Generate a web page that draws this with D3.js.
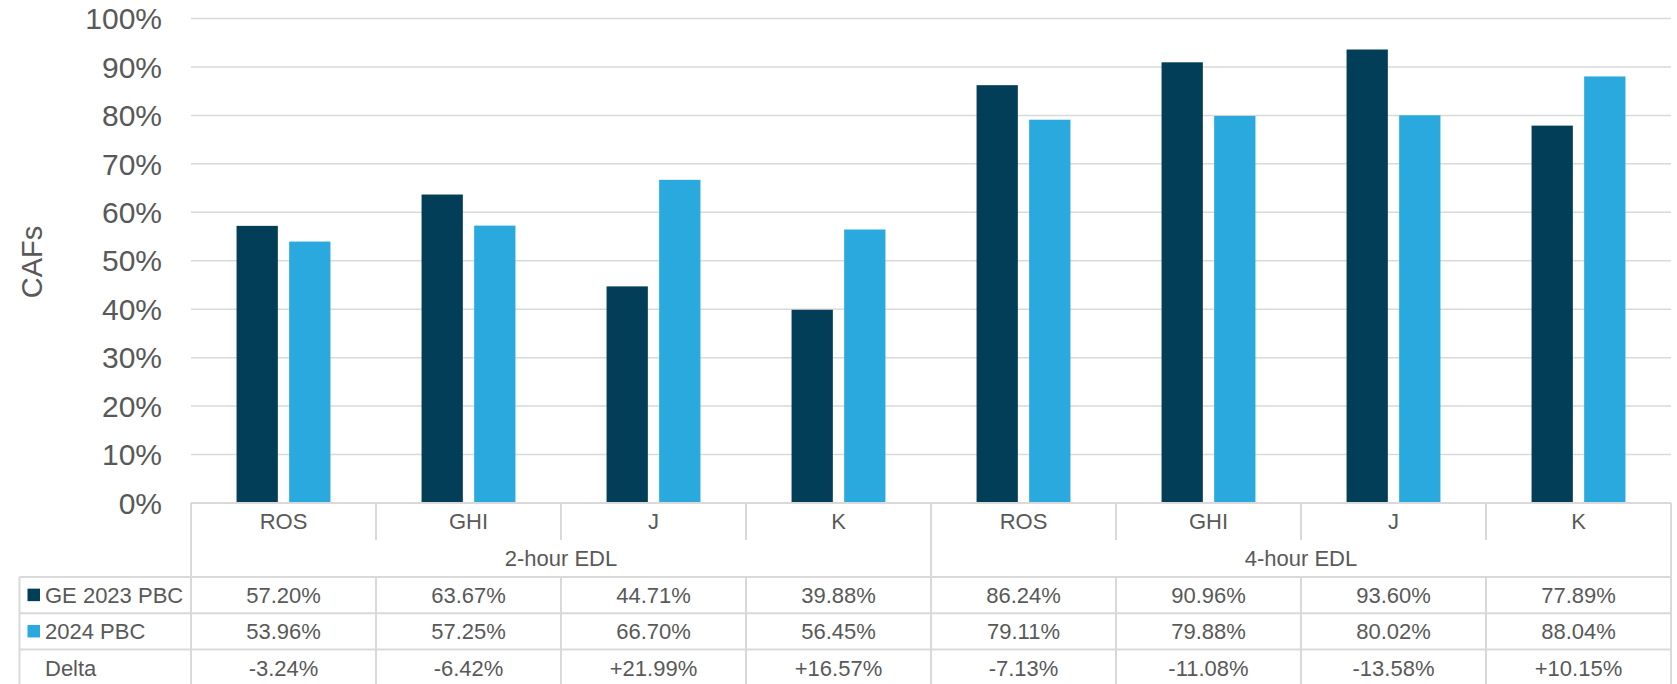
<!DOCTYPE html>
<html><head><meta charset="utf-8">
<script src="https://cdn.jsdelivr.net/npm/d3@7"></script>
<style>body{margin:0;background:#fff;}svg{display:block;font-family:"Liberation Sans",Arial,sans-serif;}</style>
</head><body><svg id="chart" width="1677" height="684"></svg>
<script>
const categories = ["ROS","GHI","J","K","ROS","GHI","J","K"];
const groups = ["2-hour EDL","4-hour EDL"];
const seriesNames = ["GE 2023 PBC","2024 PBC"];
const ge2023 = [57.20,63.67,44.71,39.88,86.24,90.96,93.60,77.89];
const pbc2024 = [53.96,57.25,66.70,56.45,79.11,79.88,80.02,88.04];
const deltaLabels = ["-3.24%","-6.42%","+21.99%","+16.57%","-7.13%","-11.08%","-13.58%","+10.15%"];
const yTicks = [0,10,20,30,40,50,60,70,80,90,100];
const colors = ["#033E58","#2AA9DE"];

const svg = d3.select("#chart");
const L = 191, R = 1671, T = 18.5, B = 503;
const textColor = "#595959", lineColor = "#d9d9d9";

const idx = d3.range(categories.length);
const x = d3.scaleBand().domain(idx).range([L, R]).padding(0);
const x1 = d3.scaleBand().domain([0,1]).range([0, x.bandwidth()]).paddingInner(0.215).paddingOuter(0.866);
const y = d3.scaleLinear().domain([0,100]).range([B, T]);

// gridlines
svg.append("g").selectAll("line").data(yTicks.filter(d=>d>0)).join("line")
  .attr("x1", L).attr("x2", R).attr("y1", d=>y(d)).attr("y2", d=>y(d))
  .attr("stroke", lineColor).attr("stroke-width", 1.5);

// y axis labels
const yAxis = d3.axisLeft(y).tickValues(yTicks).tickFormat(d=>d+"%").tickSize(0).tickPadding(29);
const ga = svg.append("g").attr("transform",`translate(${L},0)`).call(yAxis);
ga.select(".domain").remove();
ga.selectAll("text").attr("fill", textColor).style("font-size","30px").attr("dy","0.34em");

// y title
svg.append("text").attr("transform","translate(42,262) rotate(-90)").attr("text-anchor","middle")
  .attr("fill", textColor).style("font-size","29px").text("CAFs");

// bars
const data = [ge2023, pbc2024];
data.forEach((arr, s) => {
  svg.append("g").selectAll("rect").data(arr).join("rect")
    .attr("x", (d,i)=>x(i)+x1(s)).attr("width", x1.bandwidth())
    .attr("y", d=>y(d)).attr("height", d=>y(0)-y(d)).attr("fill", colors[s]);
});

// table
const rowTop = [503, 540, 577, 613.3, 649.6, 686];
const tL = 19.5;
const tg = svg.append("g").attr("stroke", lineColor).attr("stroke-width", 2);
tg.append("line").attr("x1",L).attr("x2",R).attr("y1",B).attr("y2",B);
[rowTop[2], rowTop[3], rowTop[4]].forEach(yy=>tg.append("line").attr("x1",tL).attr("x2",R).attr("y1",yy).attr("y2",yy));
tg.append("line").attr("x1",L).attr("x2",L).attr("y1",B).attr("y2",rowTop[5]);
tg.append("line").attr("x1",R).attr("x2",R).attr("y1",B).attr("y2",rowTop[5]);
tg.append("line").attr("x1",tL).attr("x2",tL).attr("y1",rowTop[2]).attr("y2",rowTop[5]);
idx.slice(1).forEach(i=>{
  const xx = x(i);
  if (i % 4 === 0) {
    tg.append("line").attr("x1",xx).attr("x2",xx).attr("y1",B).attr("y2",rowTop[5]);
  } else {
    tg.append("line").attr("x1",xx).attr("x2",xx).attr("y1",B).attr("y2",rowTop[1]);
    tg.append("line").attr("x1",xx).attr("x2",xx).attr("y1",rowTop[2]).attr("y2",rowTop[5]);
  }
});

const tt = svg.append("g").attr("fill", textColor).style("font-size","22px").attr("text-anchor","middle");
tt.selectAll(".cat").data(categories).join("text")
  .attr("x",(d,i)=>x(i)+x.bandwidth()/2).attr("y",(rowTop[0]+rowTop[1])/2).attr("dy","0.36em").text(d=>d);
tt.selectAll(".grp").data(groups).join("text")
  .attr("x",(d,g)=>(x(g*4)+x(g*4+3)+x.bandwidth())/2).attr("y",(rowTop[1]+rowTop[2])/2).attr("dy","0.36em").text(d=>d);
const rows = [ge2023.map(v=>v.toFixed(2)+"%"), pbc2024.map(v=>v.toFixed(2)+"%"), deltaLabels];
rows.forEach((r, k)=>{
  const cy = (rowTop[2+k]+rowTop[3+k])/2;
  tt.append("g").selectAll("text").data(r).join("text")
    .attr("x",(d,i)=>x(i)+x.bandwidth()/2).attr("y",cy).attr("dy","0.36em").text(d=>d);
});
const heads = [seriesNames[0], seriesNames[1], "Delta"];
heads.forEach((h,k)=>{
  const cy = (rowTop[2+k]+rowTop[3+k])/2;
  if (k<2) svg.append("rect").attr("x",27.5).attr("y",cy-6.5).attr("width",12.5).attr("height",12.5).attr("fill",colors[k]);
  svg.append("text").attr("x",45).attr("y",cy).attr("dy","0.36em").attr("fill",textColor).style("font-size","22px").text(h);
});
</script></body></html>
